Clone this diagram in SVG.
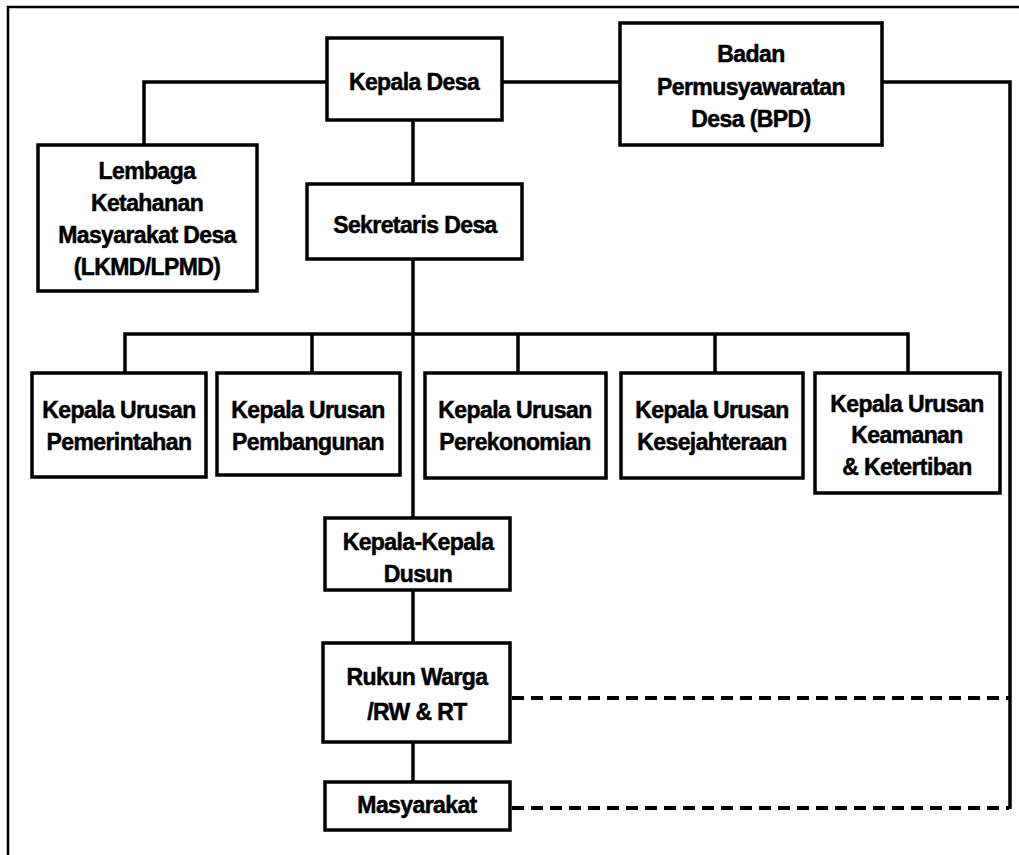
<svg xmlns="http://www.w3.org/2000/svg" width="1019" height="855" viewBox="0 0 1019 855">
<style>
.box{fill:#fff;stroke:#000;stroke-width:3.5}
.ln{fill:none;stroke:#000;stroke-width:3.5}
.dash{fill:none;stroke:#000;stroke-width:4;stroke-dasharray:12 7}
.frame{fill:none;stroke:#000;stroke-width:2.5}
text{font-family:"Liberation Sans",Arial,sans-serif;font-weight:bold;font-size:23px;fill:#000;stroke:#000;stroke-width:0.5;text-anchor:middle;letter-spacing:-0.6px}
</style>
<rect width="1019" height="855" fill="#fff"/>
<path class="frame" d="M8,855 V7 H1019"/>
<g id="connectors">
<path class="ln" d="M327,82 H144 V145"/>
<path class="ln" d="M502,82 H620"/>
<path class="ln" d="M882,82 H1010 V809"/>
<path class="ln" d="M413,120 V184"/>
<path class="ln" d="M413,259 V518"/>
<path class="ln" d="M125,373 V334 H908 V373"/>
<path class="ln" d="M312,334 V373"/>
<path class="ln" d="M518,334 V373"/>
<path class="ln" d="M715,334 V373"/>
<path class="ln" d="M413,590 V643"/>
<path class="ln" d="M413,742 V782"/>
<path class="dash" d="M512,698 H1009"/>
<path class="dash" d="M512,808 H1009"/>
</g>
<g id="kepala-desa">
<rect class="box" x="327" y="38" width="175" height="82"/>
<text x="414" y="90">Kepala Desa</text>
</g>
<g id="bpd">
<rect class="box" x="620" y="23" width="262" height="122"/>
<text x="751" y="62">Badan</text>
<text x="751" y="95">Permusyawaratan</text>
<text x="751" y="127">Desa (BPD)</text>
</g>
<g id="lkmd">
<rect class="box" x="38" y="145" width="219" height="146"/>
<text x="147" y="179">Lembaga</text>
<text x="147" y="211">Ketahanan</text>
<text x="147" y="243">Masyarakat Desa</text>
<text x="147" y="275">(LKMD/LPMD)</text>
</g>
<g id="sekretaris-desa">
<rect class="box" x="307" y="184" width="215" height="75"/>
<text x="415" y="233">Sekretaris Desa</text>
</g>
<g id="kaur-pemerintahan">
<rect class="box" x="32" y="373" width="174" height="104"/>
<text x="119" y="418">Kepala Urusan</text>
<text x="119" y="450">Pemerintahan</text>
</g>
<g id="kaur-pembangunan">
<rect class="box" x="217" y="373" width="183" height="102"/>
<text x="308" y="418">Kepala Urusan</text>
<text x="308" y="450">Pembangunan</text>
</g>
<g id="kaur-perekonomian">
<rect class="box" x="425" y="373" width="181" height="105"/>
<text x="515" y="418">Kepala Urusan</text>
<text x="515" y="450">Perekonomian</text>
</g>
<g id="kaur-kesejahteraan">
<rect class="box" x="621" y="373" width="182" height="105"/>
<text x="712" y="418">Kepala Urusan</text>
<text x="712" y="450">Kesejahteraan</text>
</g>
<g id="kaur-keamanan">
<rect class="box" x="815" y="373" width="185" height="120"/>
<text x="907" y="412">Kepala Urusan</text>
<text x="907" y="443">Keamanan</text>
<text x="907" y="475">&amp; Ketertiban</text>
</g>
<g id="kepala-dusun">
<rect class="box" x="325" y="518" width="185" height="72"/>
<text x="418" y="550">Kepala-Kepala</text>
<text x="418" y="582">Dusun</text>
</g>
<g id="rw-rt">
<rect class="box" x="323" y="643" width="187" height="99"/>
<text x="417" y="685">Rukun Warga</text>
<text x="417" y="720">/RW &amp; RT</text>
</g>
<g id="masyarakat">
<rect class="box" x="325" y="782" width="185" height="48"/>
<text x="417" y="813">Masyarakat</text>
</g>
</svg>
